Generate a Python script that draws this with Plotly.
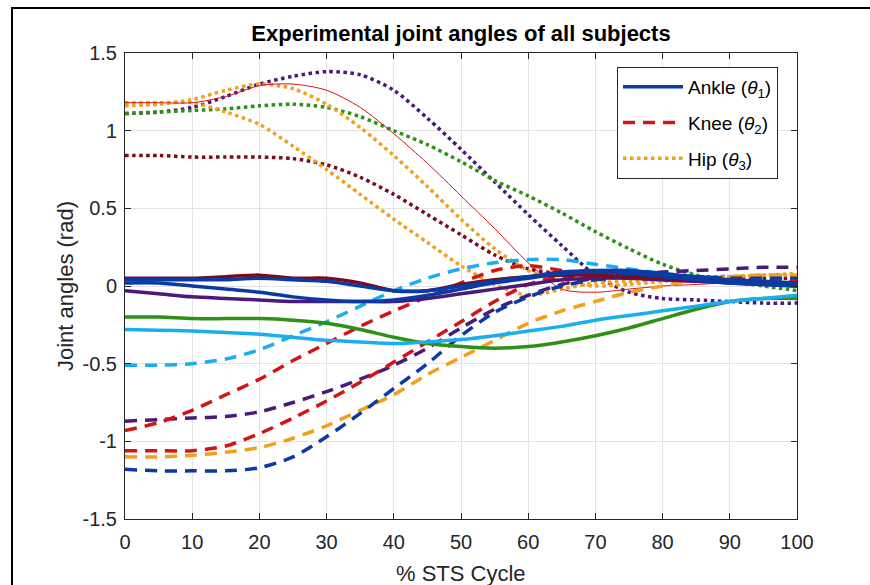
import plotly.graph_objects as go

# % STS cycle sample points
cycle = [0, 5, 10, 15, 20, 25, 30, 35, 40, 45, 50, 55, 60, 65, 70, 75, 80, 85, 90, 95, 100]

# Ankle (theta1) - solid
ankle_maroon = [0.05, 0.05, 0.05, 0.06, 0.07, 0.05, 0.05, 0.02, -0.03, -0.03, 0.01, 0.04, 0.06, 0.07, 0.07, 0.06, 0.05, 0.04, 0.03, 0.02, 0.02]
ankle_blue1 = [0.04, 0.04, 0.04, 0.04, 0.05, 0.04, 0.03, 0.0, -0.03, -0.03, 0.0, 0.03, 0.06, 0.09, 0.1, 0.1, 0.08, 0.06, 0.04, 0.03, 0.02]
ankle_blue2 = [0.02, 0.02, 0.0, -0.02, -0.04, -0.07, -0.09, -0.1, -0.09, -0.06, -0.02, 0.02, 0.05, 0.08, 0.09, 0.08, 0.06, 0.04, 0.02, 0.01, 0.0]
ankle_purple = [-0.03, -0.05, -0.07, -0.08, -0.09, -0.1, -0.1, -0.1, -0.1, -0.08, -0.05, -0.02, 0.01, 0.04, 0.05, 0.05, 0.04, 0.03, 0.02, 0.01, 0.0]
ankle_green = [-0.2, -0.2, -0.21, -0.21, -0.21, -0.22, -0.24, -0.28, -0.33, -0.37, -0.39, -0.4, -0.39, -0.36, -0.32, -0.27, -0.21, -0.15, -0.1, -0.08, -0.08]
ankle_lightblue = [-0.28, -0.285, -0.29, -0.3, -0.31, -0.33, -0.35, -0.36, -0.37, -0.36, -0.345, -0.32, -0.29, -0.26, -0.22, -0.19, -0.16, -0.13, -0.1, -0.08, -0.06]

# Knee (theta2) - dashed
knee_lightblue = [-0.51, -0.51, -0.5, -0.47, -0.41, -0.32, -0.23, -0.13, -0.03, 0.05, 0.11, 0.15, 0.17, 0.17, 0.14, 0.11, 0.08, 0.06, 0.04, 0.02, 0.01]
knee_red1 = [-0.93, -0.88, -0.8, -0.7, -0.6, -0.48, -0.37, -0.26, -0.16, -0.07, 0.02, 0.1, 0.13, 0.1, 0.07, 0.06, 0.05, 0.04, 0.04, 0.03, 0.03]
knee_red2 = [-1.06, -1.06, -1.06, -1.03, -0.95, -0.85, -0.74, -0.62, -0.49, -0.36, -0.23, -0.1, 0.01, 0.06, 0.06, 0.05, 0.04, 0.03, 0.03, 0.02, 0.02]
knee_purple = [-0.87, -0.86, -0.85, -0.84, -0.81, -0.75, -0.68, -0.6, -0.51, -0.4, -0.27, -0.15, -0.06, 0.01, 0.05, 0.07, 0.09, 0.1, 0.11, 0.12, 0.12]
knee_blue = [-1.18, -1.19, -1.19, -1.19, -1.17, -1.1, -0.97, -0.82, -0.66, -0.5, -0.32, -0.17, -0.07, 0.0, 0.04, 0.06, 0.06, 0.06, 0.05, 0.05, 0.05]
knee_orange = [-1.1, -1.1, -1.09, -1.07, -1.04, -0.98, -0.9, -0.8, -0.7, -0.57, -0.46, -0.35, -0.24, -0.16, -0.1, -0.04, 0.0, 0.04, 0.06, 0.07, 0.07]

# Hip (theta3) - dotted (red subject drawn thin solid)
hip_purple = [1.11, 1.12, 1.15, 1.22, 1.3, 1.35, 1.38, 1.36, 1.26, 1.08, 0.88, 0.67, 0.46, 0.26, 0.07, -0.04, -0.08, -0.09, -0.1, -0.11, -0.11]
hip_green = [1.11, 1.12, 1.13, 1.14, 1.16, 1.17, 1.15, 1.09, 1.0, 0.91, 0.8, 0.68, 0.58, 0.47, 0.35, 0.24, 0.14, 0.07, 0.03, 0.0, -0.03]
hip_orange1 = [1.16, 1.17, 1.2, 1.26, 1.3, 1.27, 1.17, 1.02, 0.84, 0.64, 0.43, 0.24, 0.1, 0.03, 0.0, 0.01, 0.03, 0.05, 0.06, 0.07, 0.07]
hip_orange2 = [1.18, 1.18, 1.18, 1.12, 1.04, 0.9, 0.75, 0.59, 0.43, 0.28, 0.13, 0.01, -0.06, -0.02, 0.02, 0.03, 0.04, 0.05, 0.06, 0.07, 0.08]
hip_maroon = [0.84, 0.84, 0.83, 0.83, 0.83, 0.82, 0.78, 0.7, 0.59, 0.46, 0.33, 0.2, 0.11, 0.08, 0.08, 0.07, 0.07, 0.06, 0.06, 0.05, 0.05]
hip_red = [1.18, 1.18, 1.18, 1.22, 1.29, 1.3, 1.26, 1.15, 0.98, 0.79, 0.58, 0.37, 0.15, -0.02, -0.04, -0.02, 0.0, 0.01, 0.02, 0.02, 0.03]

x_ticks = [0, 10, 20, 30, 40, 50, 60, 70, 80, 90, 100]
x_ticklabels = ["0", "10", "20", "30", "40", "50", "60", "70", "80", "90", "100"]
y_ticks = [-1.5, -1, -0.5, 0, 0.5, 1, 1.5]
y_ticklabels = ["-1.5", "-1", "-0.5", "0", "0.5", "1", "1.5"]

C_BLUE = "#0a3aa3"
C_RED = "#d41414"
C_ORANGE = "#f2a01c"
C_PURPLE = "#4a1a7a"
C_MAROON = "#7a0c1c"
C_GREEN = "#2e9014"
C_LBLUE = "#1aaef0"

DASH = "12px,8px"
W = 3.5

series = [
    # (values, color, dash, width, legend name, rank)
    (hip_purple, C_PURPLE, "dot", W, None, None),
    (hip_green, C_GREEN, "dot", W, None, None),
    (hip_maroon, C_MAROON, "dot", W, None, None),
    (hip_orange1, C_ORANGE, "dot", W, "Hip (<i>θ</i><sub>3</sub>)", 3),
    (hip_orange2, C_ORANGE, "dot", W, None, None),
    (hip_red, C_RED, "solid", 1, None, None),
    (knee_lightblue, C_LBLUE, DASH, W, None, None),
    (knee_purple, C_PURPLE, DASH, W, None, None),
    (knee_orange, C_ORANGE, DASH, W, None, None),
    (knee_blue, C_BLUE, DASH, W, None, None),
    (knee_red1, C_RED, DASH, W, "Knee (<i>θ</i><sub>2</sub>)", 2),
    (knee_red2, C_RED, DASH, W, None, None),
    (ankle_green, C_GREEN, "solid", W, None, None),
    (ankle_lightblue, C_LBLUE, "solid", W, None, None),
    (ankle_purple, C_PURPLE, "solid", W, None, None),
    (ankle_maroon, C_MAROON, "solid", W, None, None),
    (ankle_blue2, C_BLUE, "solid", W, None, None),
    (ankle_blue1, C_BLUE, "solid", W, "Ankle (<i>θ</i><sub>1</sub>)", 1),
]

fig = go.Figure()
for vals, col, dash, w, name, rank in series:
    if name:
        kw = dict(name=name, showlegend=True, legendrank=rank, legendgroup="g%d" % rank)
    else:
        kw = dict(showlegend=False)
    fig.add_trace(go.Scatter(
        x=cycle, y=vals, mode="lines",
        line=dict(color=col, width=w, dash=dash, shape="spline", smoothing=0.8),
        hoverinfo="skip", **kw))

FONT = "Liberation Sans, Arial, sans-serif"
axis_common = dict(
    showline=True, linecolor="#262626", linewidth=1, mirror="ticks",
    ticks="inside", ticklen=6, tickcolor="#262626", tickwidth=1,
    showgrid=True, gridcolor="#e3e3e3", gridwidth=1, zeroline=False,
    automargin=False,
    tickfont=dict(family=FONT, size=20, color="#262626"),
)

fig.update_layout(
    width=870, height=585,
    margin=dict(l=125, r=73, t=53, b=66, autoexpand=False),
    paper_bgcolor="white", plot_bgcolor="white",
    title=dict(text="<b>Experimental joint angles of all subjects</b>",
               x=(461) / 870, xanchor="center", y=1 - 33 / 585, yanchor="middle",
               font=dict(family=FONT, size=22, color="black")),
    xaxis=dict(range=[0, 100], tickvals=x_ticks, ticktext=x_ticklabels,
               ticklabelstandoff=5, **axis_common),
    yaxis=dict(range=[-1.5, 1.5], tickvals=y_ticks, ticktext=y_ticklabels,
               ticklabelstandoff=3, **axis_common),
    annotations=[
        dict(text="% STS Cycle", xref="paper", yref="paper",
             x=0.5, y=(519 - 573) / 466, xanchor="center", yanchor="middle",
             showarrow=False, font=dict(family=FONT, size=22, color="#262626")),
        dict(text="Joint angles (rad)", xref="paper", yref="paper",
             x=(65 - 125) / 672, y=0.5, xanchor="center", yanchor="middle",
             textangle=-90, showarrow=False,
             font=dict(family=FONT, size=22, color="#262626")),
    ],
    legend=dict(x=(617 - 125) / 672, y=(519 - 67) / 466, xanchor="left", yanchor="top",
                bgcolor="white", bordercolor="#262626", borderwidth=1,
                font=dict(family=FONT, size=19, color="black"),
                itemwidth=60, tracegroupgap=8),
    showlegend=True,
    shapes=[dict(type="rect", xref="paper", yref="paper",
                 x0=(12 - 125) / 672, x1=(880 - 125) / 672,
                 y0=(519 - 600) / 466, y1=(519 - 8) / 466,
                 line=dict(color="black", width=2), fillcolor="rgba(0,0,0,0)", layer="below")],
)

fig.write_html("out.html")
